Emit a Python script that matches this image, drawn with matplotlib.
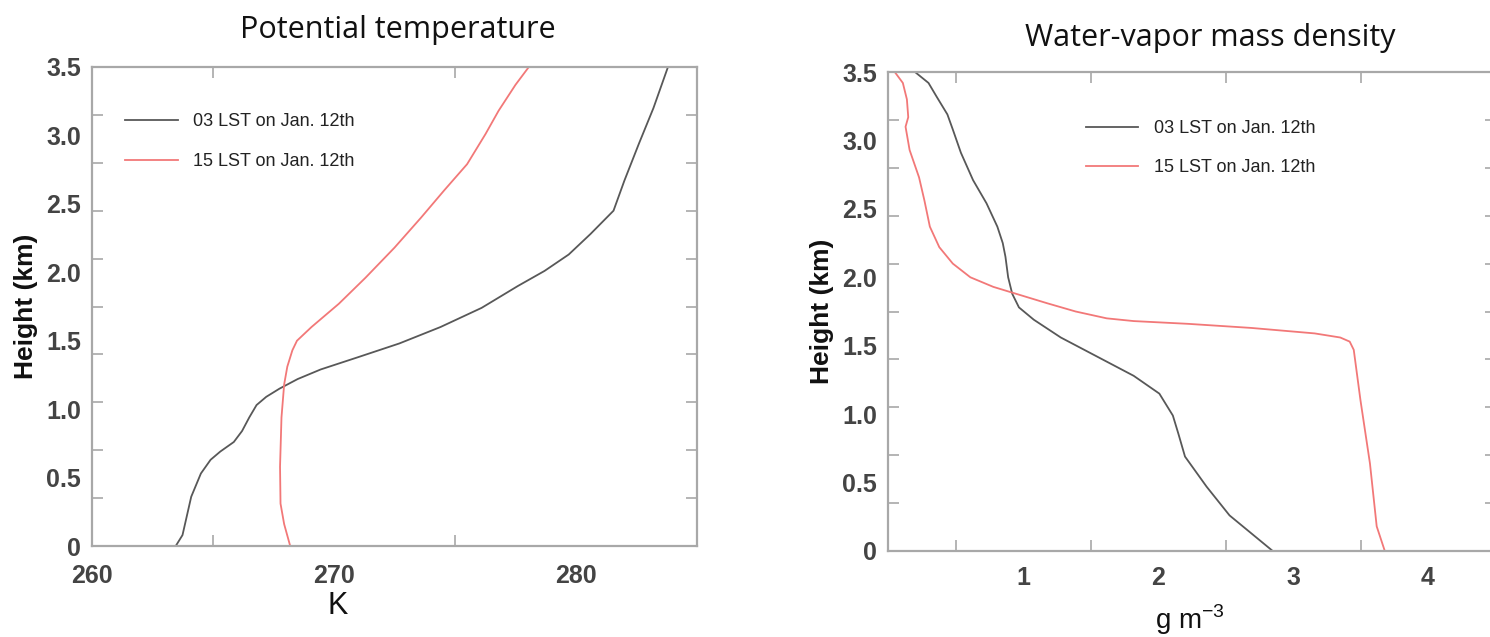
import numpy as np
import matplotlib
matplotlib.use('Agg')
import matplotlib.pyplot as plt
from matplotlib.ticker import FixedLocator

# potential temperature profiles (K, km)
theta_03_k = [263.46, 263.74, 264.1, 264.5, 264.9, 265.3, 265.86, 266.2, 266.5, 266.8, 267.2, 267.75,
              268.5, 269.45, 271.0, 272.7, 274.4, 276.1, 277.6, 278.7, 279.7, 280.6, 281.55, 282.0,
              282.6, 283.2, 283.8]
theta_03_z = [0.0, 0.08, 0.36, 0.53, 0.63, 0.69, 0.76, 0.84, 0.94, 1.03, 1.09, 1.15,
              1.22, 1.29, 1.38, 1.48, 1.60, 1.74, 1.90, 2.01, 2.13, 2.28, 2.45, 2.67,
              2.94, 3.20, 3.50]
theta_15_k = [268.19, 267.94, 267.79, 267.77, 267.83, 267.94, 268.07, 268.28, 268.47, 269.07, 270.2,
              271.3, 272.5, 273.6, 274.56, 275.5, 276.26, 276.8, 277.5, 278.05]
theta_15_z = [0.0, 0.16, 0.31, 0.58, 0.94, 1.18, 1.31, 1.43, 1.50, 1.60, 1.77,
              1.96, 2.18, 2.40, 2.60, 2.79, 3.01, 3.18, 3.37, 3.50]

# water-vapor mass density profiles (g m-3, km)
rho_03_v = [2.85, 2.53, 2.36, 2.20, 2.15, 2.11, 2.01, 1.82, 1.55, 1.28, 1.08, 0.97, 0.92, 0.89,
            0.87, 0.85, 0.81, 0.73, 0.63, 0.54, 0.48, 0.44, 0.36, 0.30, 0.20]
rho_03_z = [0.0, 0.26, 0.47, 0.69, 0.86, 0.99, 1.15, 1.28, 1.42, 1.56, 1.69, 1.78, 1.88, 2.00,
            2.15, 2.25, 2.37, 2.54, 2.71, 2.91, 3.08, 3.19, 3.32, 3.42, 3.50]
rho_15_v = [3.68, 3.62, 3.57, 3.50, 3.45, 3.42, 3.35, 3.16, 2.69, 2.22, 1.82, 1.62, 1.39, 1.18,
            0.98, 0.78, 0.61, 0.48, 0.38, 0.31, 0.27, 0.23, 0.16, 0.13, 0.15, 0.14, 0.11, 0.05]
rho_15_z = [0.0, 0.18, 0.64, 1.10, 1.47, 1.53, 1.56, 1.59, 1.63, 1.66, 1.68, 1.70, 1.75, 1.81,
            1.87, 1.93, 2.00, 2.10, 2.22, 2.37, 2.56, 2.73, 2.93, 3.10, 3.17, 3.30, 3.42, 3.50]

labels = ['03 LST on Jan. 12th', '15 LST on Jan. 12th']
y_ticks = [0, 0.5, 1.0, 1.5, 2.0, 2.5, 3.0, 3.5]
y_ticklabels = ['0', '0.5', '1.0', '1.5', '2.0', '2.5', '3.0', '3.5']

col_03 = '#585858'
col_15 = '#f27878'
spine_col = '#a8a8a8'
tick_col = '#444444'
fam = 'Liberation Sans'

fig = plt.figure(figsize=(14.9, 6.37), dpi=100)
ax1 = fig.add_axes([92/1490, 1-546/637, 605/1490, 479/637])
ax2 = fig.add_axes([888/1490, 1-551/637, 607.5/1490, 479/637])

def style_axes(ax, xlim, xticks, xlabels, xminor, xpad):
    ax.set_xlim(*xlim)
    ax.set_ylim(0, 3.5)
    for s in ax.spines.values():
        s.set_color(spine_col)
        s.set_linewidth(1.6)
    ax.set_xticks(xticks)
    ax.set_xticklabels(xlabels)
    ax.xaxis.set_minor_locator(FixedLocator(xminor))
    ax.set_yticks(y_ticks)
    ax.set_yticklabels(y_ticklabels)
    ax.yaxis.set_minor_locator(FixedLocator(np.arange(0.35, 3.5, 0.35)))
    ax.tick_params(axis='x', which='major', direction='in', length=0, pad=xpad,
                   labelsize=18, labelcolor=tick_col)
    ax.tick_params(axis='x', which='minor', direction='in', length=8, color=spine_col,
                   top=True, bottom=True, width=1.2)
    ax.tick_params(axis='y', which='major', direction='in', length=0, pad=8,
                   labelsize=18, labelcolor=tick_col)
    ax.tick_params(axis='y', which='minor', direction='in', length=8, color=spine_col,
                   left=True, right=True, width=1.2)
    for t in ax.get_xticklabels() + ax.get_yticklabels():
        t.set_fontweight('bold')
        t.set_family(fam)
    ax.set_ylabel('Height (km)', fontsize=19, fontweight='bold', color='#111111',
                  family=fam, labelpad=6)

style_axes(ax1, (260, 285), [260, 270, 280], ['260', '270', '280'], [265, 270, 275, 280], 13)
style_axes(ax2, (0, 4.5), [1, 2, 3, 4], ['1', '2', '3', '4'], np.arange(0.5, 4.5, 0.5), 11)

ax1.plot(theta_03_k, theta_03_z, color=col_03, lw=1.3, label=labels[0])
ax1.plot(theta_15_k, theta_15_z, color=col_15, lw=1.3, label=labels[1])
ax2.plot(rho_03_v, rho_03_z, color=col_03, lw=1.3, label=labels[0])
ax2.plot(rho_15_v, rho_15_z, color=col_15, lw=1.3, label=labels[1])

leg_kw = dict(frameon=False, loc='upper left', borderpad=0, borderaxespad=0,
              handlelength=2.9, handletextpad=0.85, labelspacing=1.25,
              prop={'family': fam, 'size': 13})
leg1 = ax1.legend(bbox_to_anchor=(0.055, 0.903), **leg_kw)
leg2 = ax2.legend(bbox_to_anchor=(0.326, 0.9), **leg_kw)
for leg in (leg1, leg2):
    for t in leg.get_texts():
        t.set_color('#222222')

fig.text(398/1490, 1-30/637, 'Potential temperature', ha='center', va='center',
         fontsize=22, family='Open Sans', color='#111111')
fig.text(1210/1490, 1-38/637, 'Water-vapor mass density', ha='center', va='center',
         fontsize=22, family='Open Sans', color='#111111')
fig.text(338/1490, 1-606/637, 'K', ha='center', va='center',
         fontsize=22, family=fam, color='#111111')
fig.text(1190/1490, 1-620/637, r'g m$^{\mathregular{-3}}$', ha='center', va='center',
         fontsize=20, family=fam, color='#111111')

fig.savefig('out.png', dpi=100)
